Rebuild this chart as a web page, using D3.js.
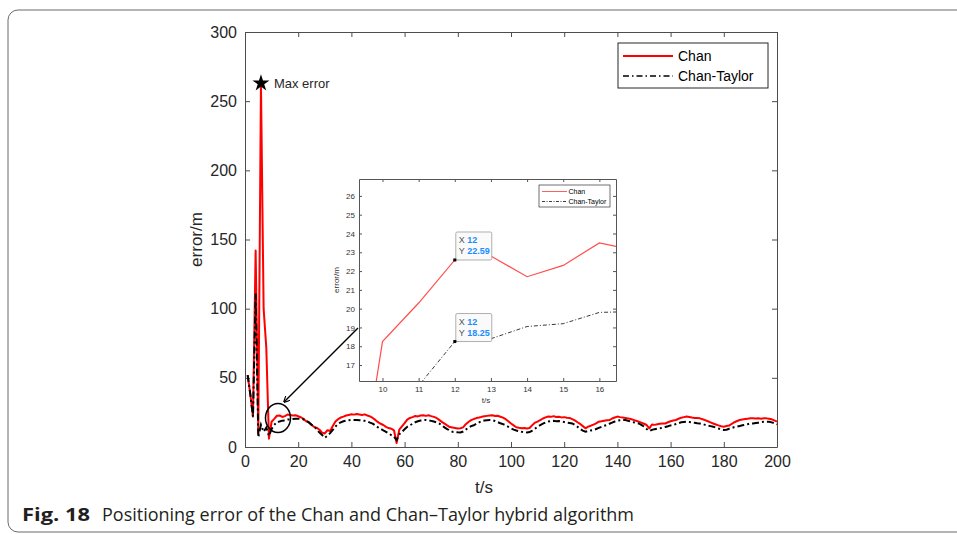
<!DOCTYPE html>
<html>
<head>
<meta charset="utf-8">
<script src="https://cdn.jsdelivr.net/npm/d3@7"></script>
<style>
  body { margin: 0; background: #fff; }
  text { font-family: Arial, "Liberation Sans", Helvetica, sans-serif; }
</style>
</head>
<body>
<svg id="chart" width="957" height="534"></svg>
<script>
// time samples, one per second
const tSec = d3.range(1, 201);

// Chan positioning error (m)
const chanErr = [
  52, 38, 22, 142, 10, 263, 100, 72, 6, 18.25,
  20.3, 22.59, 22.8, 21.7, 22.3, 23.5, 23.1, 22.7, 23.0, 22.2,
  21.5, 20.3, 18.6, 17.8, 15.9, 14.6, 13.8, 12.5, 10.4, 9.8,
  12.1, 11.6, 15.2, 18.4, 20.1, 21.3, 22.0, 22.8, 23.2, 23.6,
  23.4, 23.9, 23.5, 23.1, 23.6, 22.8, 22.1, 21.0, 19.6, 17.9,
  16.8, 15.9, 14.6, 13.7, 13.2, 12.1, 2.8, 12.6, 14.9, 17.2,
  19.8, 21.0, 21.6, 22.4, 22.1, 22.8, 23.0, 22.5, 22.9, 22.3,
  21.8, 21.0, 19.6, 18.2, 16.9, 15.6, 14.4, 14.1, 13.8, 13.4,
  13.6, 14.2, 16.5, 18.1, 19.4, 20.2, 20.9, 21.3, 21.8, 22.2,
  22.5, 22.7, 22.9, 22.4, 22.6, 21.9, 21.2, 20.1, 18.6, 17.0,
  15.6, 14.3, 13.9, 13.6, 13.8, 13.4, 13.7, 15.8, 17.6, 18.3,
  19.5, 20.6, 21.4, 22.0, 21.8, 22.3, 21.7, 21.9, 21.4, 21.6,
  21.2, 21.0, 20.1, 19.2, 17.9, 16.7, 15.1, 13.5, 14.7, 15.4,
  16.2, 17.1, 18.3, 18.6, 19.0, 19.4, 19.5, 20.6, 21.3, 22.0,
  21.6, 21.3, 21.0, 20.7, 20.2, 19.6, 19.0, 18.3, 17.6, 16.8,
  15.9, 13.5, 16.3, 16.0, 16.4, 16.8, 16.9, 17.0, 17.9, 18.6,
  19.1, 19.5, 20.4, 21.2, 21.6, 22.0, 21.7, 21.3, 21.0, 20.9,
  20.7, 20.1, 19.4, 18.6, 17.8, 17.0, 16.3, 15.6, 15.0, 14.7,
  15.2, 15.5, 16.8, 17.9, 18.8, 19.5, 19.9, 20.3, 20.5, 20.7,
  20.7, 20.6, 20.8, 20.5, 20.7, 20.7, 20.4, 20.0, 19.2, 18.3
];

// Chan-Taylor positioning error (m)
const taylorErr = [
  52, 38, 22, 111, 7, 16, 11, 14, 8, 13,
  15.9, 18.25, 18.4, 19.05, 19.2, 19.8, 19.85, 20.2, 20.4, 20.5,
  20.3, 20.0, 19.1, 17.8, 16.2, 14.9, 12.6, 10.4, 8.7, 6.7,
  8.2, 10.0, 12.3, 14.8, 16.9, 17.8, 18.6, 19.1, 19.4, 19.6,
  19.5, 19.6, 19.4, 19.2, 18.9, 18.4, 17.6, 16.9, 15.6, 14.2,
  13.1, 12.0, 11.0, 9.8, 8.6, 7.5, 5.0, 9.2, 11.0, 12.8,
  14.6, 15.7, 16.8, 17.9, 18.6, 19.1, 19.4, 19.5, 19.3, 18.9,
  18.4, 17.8, 17.0, 15.6, 14.2, 13.0, 11.9, 11.0, 10.8, 10.6,
  10.5, 11.2, 12.6, 14.0, 15.1, 15.7, 16.8, 17.8, 18.7, 19.2,
  19.4, 19.5, 19.3, 18.8, 18.0, 17.2, 16.5, 15.7, 14.6, 13.5,
  12.6, 11.9, 11.5, 11.0, 10.7, 10.5, 10.8, 11.9, 13.2, 14.7,
  15.9, 16.9, 17.8, 18.4, 18.8, 18.9, 18.7, 18.8, 18.4, 18.0,
  17.6, 17.3, 17.0, 16.0, 14.6, 13.0, 11.8, 11.0, 11.6, 12.0,
  12.3, 13.0, 13.8, 14.6, 15.4, 15.9, 16.8, 17.6, 18.4, 19.0,
  19.3, 19.5, 19.5, 19.0, 18.4, 17.9, 17.4, 17.0, 16.0, 14.8,
  13.0, 11.5, 12.4, 12.9, 13.3, 13.5, 14.0, 14.5, 15.0, 15.6,
  15.9, 16.6, 17.3, 17.9, 18.1, 18.3, 18.1, 17.8, 17.5, 17.2,
  17.0, 16.6, 16.0, 15.5, 15.1, 14.7, 14.0, 13.4, 12.8, 12.3,
  12.5, 13.2, 13.8, 14.4, 14.7, 15.2, 15.7, 16.1, 16.5, 17.0,
  17.0, 17.3, 17.6, 17.9, 18.2, 18.3, 18.2, 17.8, 17.2, 16.3
];

const xTicks = [0, 20, 40, 60, 80, 100, 120, 140, 160, 180, 200];
const yTicks = [0, 50, 100, 150, 200, 250, 300];
const insetXTicks = [10, 11, 12, 13, 14, 15, 16];
const insetYTicks = [17, 18, 19, 20, 21, 22, 23, 24, 25, 26];
const seriesNames = ["Chan", "Chan-Taylor"];
const tipTime = 12;       // data tip position in the inset
const maxErrTime = 6;     // sample with the largest Chan error

const svg = d3.select("#chart");

// Outer figure frame (rounded, running off the right / bottom edge)
svg.append("rect")
    .attr("x", 8).attr("y", 10)
    .attr("width", 980).attr("height", 522)
    .attr("rx", 10)
    .attr("fill", "none")
    .attr("stroke", "#6b6b6b")
    .attr("stroke-width", 1);

// ---------- main axes ----------
const x = d3.scaleLinear().domain([0, 200]).range([245, 777]);
const y = d3.scaleLinear().domain([0, 300]).range([447, 32]);

const axisColor = "#4d4d4d";

function styleAxis(g, labels) {
    g.select(".domain").attr("stroke", axisColor);
    g.selectAll(".tick line").attr("stroke", axisColor);
    g.selectAll(".tick text")
        .attr("fill", "#262626")
        .style("font-size", labels ? "16px" : "0px");
}

svg.append("g")
    .attr("transform", `translate(0,${y(0)})`)
    .call(d3.axisBottom(x).tickValues(xTicks).tickSizeInner(-5).tickSizeOuter(0).tickPadding(9))
    .call(g => styleAxis(g, true));

svg.append("g")
    .attr("transform", `translate(0,${y(300)})`)
    .call(d3.axisTop(x).tickValues(xTicks).tickSizeInner(-5).tickSizeOuter(0).tickFormat(""))
    .call(g => styleAxis(g, false));

svg.append("g")
    .attr("transform", `translate(${x(0)},0)`)
    .call(d3.axisLeft(y).tickValues(yTicks).tickSizeInner(-5).tickSizeOuter(0).tickPadding(8))
    .call(g => styleAxis(g, true));

svg.append("g")
    .attr("transform", `translate(${x(200)},0)`)
    .call(d3.axisRight(y).tickValues(yTicks).tickSizeInner(-5).tickSizeOuter(0).tickFormat(""))
    .call(g => styleAxis(g, false));

// axis titles
svg.append("text")
    .attr("x", 484).attr("y", 493)
    .attr("text-anchor", "middle")
    .style("font-size", "17px")
    .attr("fill", "#262626")
    .text("t/s");

svg.append("text")
    .attr("transform", `translate(202,${(y(0) + y(300)) / 2}) rotate(-90)`)
    .attr("text-anchor", "middle")
    .style("font-size", "17px")
    .attr("fill", "#262626")
    .text("error/m");

// main lines
const mainLine = (vals) => d3.line()
    .x((d, i) => x(tSec[i]))
    .y(d => y(d))(vals);

svg.append("path")
    .attr("d", mainLine(chanErr))
    .attr("fill", "none")
    .attr("stroke", "#ff0000")
    .attr("stroke-width", 2)
    .attr("stroke-linejoin", "round");

svg.append("path")
    .attr("d", mainLine(taylorErr))
    .attr("fill", "none")
    .attr("stroke", "#000")
    .attr("stroke-width", 2)
    .attr("stroke-dasharray", "7,3,2,3");

// Max error marker
const starX = x(tSec[maxErrTime - 1]), starY = y(chanErr[maxErrTime - 1]);
svg.append("path")
    .attr("d", d3.symbol().type(d3.symbolStar).size(90)())
    .attr("transform", `translate(${starX},${starY})`)
    .attr("fill", "#000");
svg.append("text")
    .attr("x", starX + 13).attr("y", starY + 5)
    .style("font-size", "13px")
    .attr("fill", "#262626")
    .text("Max error");

// main legend
const legend = svg.append("g").attr("transform", "translate(618,43)");
legend.append("rect")
    .attr("width", 150).attr("height", 45)
    .attr("fill", "#fff")
    .attr("stroke", "#262626")
    .attr("stroke-width", 1);
seriesNames.forEach((name, i) => {
    const ly = 13 + i * 20;
    legend.append("line")
        .attr("x1", 5).attr("x2", 55)
        .attr("y1", ly).attr("y2", ly)
        .attr("stroke", i === 0 ? "#ff0000" : "#000")
        .attr("stroke-width", i === 0 ? 2 : 1.5)
        .attr("stroke-dasharray", i === 0 ? null : "6,3,1.5,3");
    legend.append("text")
        .attr("x", 60).attr("y", ly + 5)
        .style("font-size", "14px")
        .attr("fill", "#000")
        .text(name);
});

// circle + arrow pointing to the zoomed region
svg.append("ellipse")
    .attr("cx", 278).attr("cy", 418)
    .attr("rx", 12.5).attr("ry", 14.5)
    .attr("fill", "none")
    .attr("stroke", "#000")
    .attr("stroke-width", 1.5);

svg.append("defs").append("marker")
    .attr("id", "arrowHead")
    .attr("viewBox", "0 0 10 10")
    .attr("refX", 9).attr("refY", 5)
    .attr("markerWidth", 7).attr("markerHeight", 7)
    .attr("markerUnits", "userSpaceOnUse")
    .attr("orient", "auto")
    .append("path")
    .attr("d", "M0,0 L10,5 L0,10")
    .attr("fill", "none")
    .attr("stroke", "#000")
    .attr("stroke-width", 1.6);

svg.append("line")
    .attr("x1", 358).attr("y1", 328)
    .attr("x2", 284).attr("y2", 402)
    .attr("stroke", "#000")
    .attr("stroke-width", 1.5)
    .attr("marker-end", "url(#arrowHead)");

// ---------- inset ----------
const xi = d3.scaleLinear().domain([9.35, 16.46]).range([359, 616]);
const yi = d3.scaleLinear().domain([16.15, 26.9]).range([381, 179]);
const inset = svg.append("g");

inset.append("clipPath").attr("id", "insetClip")
    .append("rect")
    .attr("x", 359).attr("y", 179)
    .attr("width", 257).attr("height", 202);

function styleInset(g, labels) {
    g.select(".domain").attr("stroke", "#555");
    g.selectAll(".tick line").attr("stroke", "#555");
    g.selectAll(".tick text")
        .attr("fill", "#333")
        .style("font-size", labels ? "8px" : "0px");
}

inset.append("g")
    .attr("transform", `translate(0,381)`)
    .call(d3.axisBottom(xi).tickValues(insetXTicks).tickSizeInner(-3).tickSizeOuter(0).tickPadding(5))
    .call(g => styleInset(g, true));
inset.append("g")
    .attr("transform", `translate(0,179)`)
    .call(d3.axisTop(xi).tickValues(insetXTicks).tickSizeInner(-3).tickSizeOuter(0).tickFormat(""))
    .call(g => styleInset(g, false));
inset.append("g")
    .attr("transform", `translate(359,0)`)
    .call(d3.axisLeft(yi).tickValues(insetYTicks).tickSizeInner(-3).tickSizeOuter(0).tickPadding(4))
    .call(g => styleInset(g, true));
inset.append("g")
    .attr("transform", `translate(616,0)`)
    .call(d3.axisRight(yi).tickValues(insetYTicks).tickSizeInner(-3).tickSizeOuter(0).tickFormat(""))
    .call(g => styleInset(g, false));

inset.append("text")
    .attr("x", 486).attr("y", 403)
    .attr("text-anchor", "middle")
    .style("font-size", "8px")
    .attr("fill", "#333")
    .text("t/s");
inset.append("text")
    .attr("transform", "translate(339,280) rotate(-90)")
    .attr("text-anchor", "middle")
    .style("font-size", "8px")
    .attr("fill", "#333")
    .text("error/m");

const insetLine = (vals) => d3.line()
    .x((d, i) => xi(tSec[i]))
    .y(d => yi(d))(vals);

inset.append("path")
    .attr("d", insetLine(chanErr))
    .attr("clip-path", "url(#insetClip)")
    .attr("fill", "none")
    .attr("stroke", "#ff4d4d")
    .attr("stroke-width", 1.2);
inset.append("path")
    .attr("d", insetLine(taylorErr))
    .attr("clip-path", "url(#insetClip)")
    .attr("fill", "none")
    .attr("stroke", "#222")
    .attr("stroke-width", 0.9)
    .attr("stroke-dasharray", "4,2,1,2");

// data tips
[chanErr, taylorErr].forEach(vals => {
    const v = vals[tipTime - 1];
    const px = xi(tipTime), py = yi(v);
    const tip = inset.append("g").attr("transform", `translate(${px},${py})`);
    tip.append("rect")
        .attr("x", 1).attr("y", -28)
        .attr("width", 36).attr("height", 28)
        .attr("rx", 1.5)
        .attr("fill", "#fafafa")
        .attr("stroke", "#9a9a9a")
        .attr("stroke-width", 0.8);
    tip.append("rect")
        .attr("x", -1.5).attr("y", -1.5)
        .attr("width", 3).attr("height", 3)
        .attr("fill", "#000");
    const rows = [["X", tipTime], ["Y", v.toFixed(2)]];
    rows.forEach((r, i) => {
        const tt = tip.append("text")
            .attr("x", 4).attr("y", -16.5 + i * 11)
            .style("font-size", "9px");
        tt.append("tspan").attr("fill", "#555").text(r[0] + " ");
        tt.append("tspan").attr("fill", "#1a8cff").attr("font-weight", "bold").text(r[1]);
    });
});

// inset legend
const iLegend = inset.append("g").attr("transform", "translate(539,185)");
iLegend.append("rect")
    .attr("width", 71).attr("height", 22)
    .attr("fill", "#fff")
    .attr("stroke", "#333")
    .attr("stroke-width", 0.7);
seriesNames.forEach((name, i) => {
    const ly = 6.5 + i * 10;
    iLegend.append("line")
        .attr("x1", 3).attr("x2", 28)
        .attr("y1", ly).attr("y2", ly)
        .attr("stroke", i === 0 ? "#ff4d4d" : "#222")
        .attr("stroke-width", 0.9)
        .attr("stroke-dasharray", i === 0 ? null : "3,1.5,1,1.5");
    iLegend.append("text")
        .attr("x", 29.5).attr("y", ly + 2.5)
        .style("font-size", "7px")
        .attr("fill", "#000")
        .text(name);
});

// ---------- caption ----------
const cap = svg.append("text")
    .attr("x", 22).attr("y", 521)
    .style("font-family", "'Open Sans', 'Noto Sans', sans-serif")
    .style("font-size", "18px")
    .attr("fill", "#231f20");
cap.append("tspan")
    .attr("font-weight", "bold")
    .attr("textLength", 68)
    .attr("lengthAdjust", "spacingAndGlyphs")
    .text("Fig. 18");
cap.append("tspan")
    .attr("x", 102)
    .attr("textLength", 532)
    .attr("lengthAdjust", "spacingAndGlyphs")
    .text("Positioning error of the Chan and Chan\u2013Taylor hybrid algorithm");
</script>
</body>
</html>
